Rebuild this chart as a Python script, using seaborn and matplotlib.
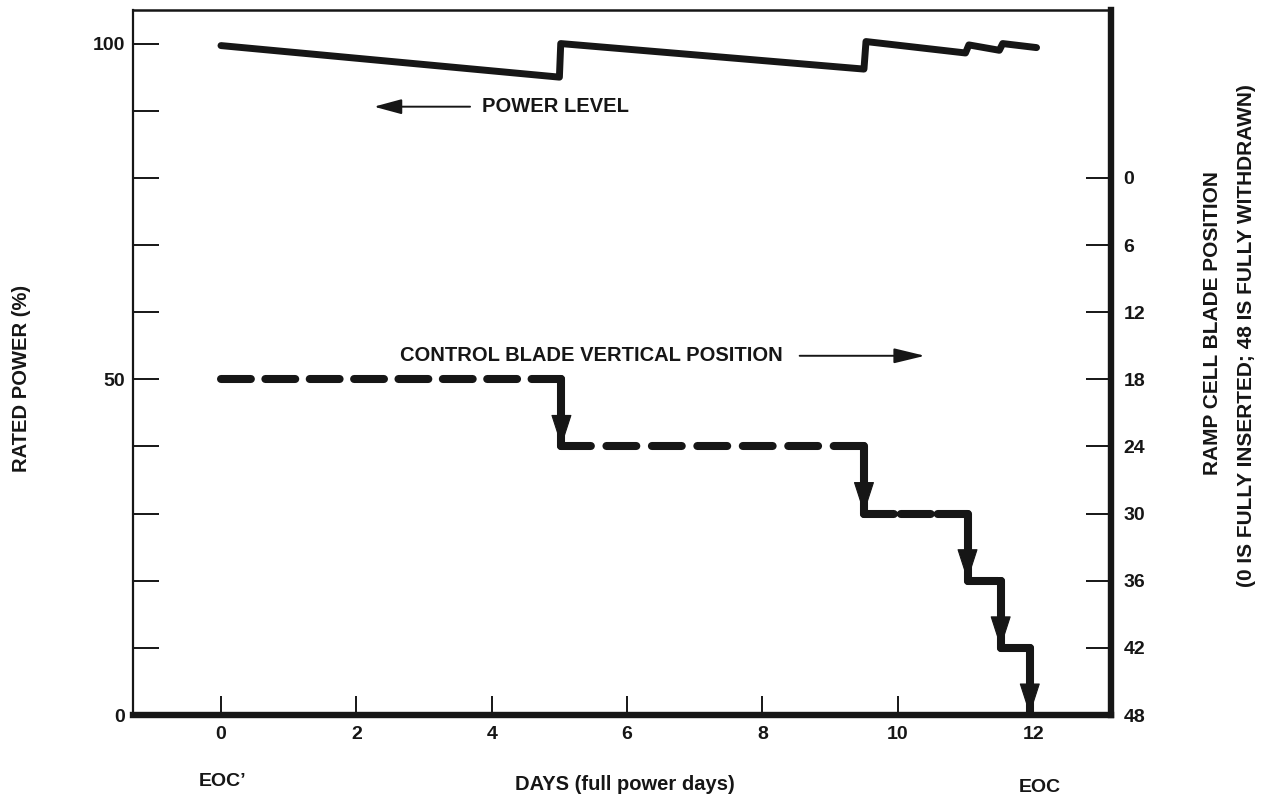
import numpy as np
import pandas as pd
import matplotlib
matplotlib.use("Agg")
import matplotlib.pyplot as plt
import seaborn as sns

# Reactor power history: full power days vs. percent of rated power
power_days = [0.0, 5.0, 5.02, 9.5, 9.53, 11.0, 11.05, 11.5, 11.55, 12.05]
power_pct = [99.7, 95.0, 100.0, 96.2, 100.3, 98.6, 99.8, 99.0, 100.0, 99.4]

# Ramp cell control blade withdrawal steps: day of each move and blade position
blade_days = [0.0, 5.03, 9.5, 11.03, 11.52, 11.95]
blade_pos = [18, 24, 30, 36, 42, 48]

day_ticks = [0, 2, 4, 6, 8, 10, 12]
day_labels = ["0", "2", "4", "6", "8", "10", "12"]
power_ticks = [0, 10, 20, 30, 40, 50, 60, 70, 80, 90, 100]
power_labels = ["0", "", "", "", "", "50", "", "", "", "", "100"]
blade_ticks = [0, 6, 12, 18, 24, 30, 36, 42, 48]
blade_labels = ["0", "6", "12", "18", "24", "30", "36", "42", "48"]

sns.set_theme(style="ticks")
plt.rcParams["font.family"] = ["Liberation Sans", "DejaVu Sans"]
plt.rcParams["font.weight"] = "bold"
plt.rcParams["lines.scale_dashes"] = False

INK = "#161616"
W, H = 1265, 800

fig = plt.figure(figsize=(W / 100, H / 100), dpi=100)
fig.patch.set_facecolor("white")
ax = fig.add_axes([133 / W, 1 - 715 / H, (1111 - 133) / W, (715 - 10) / H])
ax.set_facecolor("white")
ax2 = ax.twinx()

ax.set_xlim(-1.3, 13.15)
ax.set_ylim(0, 105)
# blade scale: 48 at 0 % rated power, 18 at 50 %, 0 at 80 %
ax2.set_ylim(48, -15)

# ---- power level (left scale) ----
df_power = pd.DataFrame({"day": power_days, "power": power_pct})
sns.lineplot(data=df_power, x="day", y="power", ax=ax, color=INK, lw=5.0,
             estimator=None, sort=False, legend=False,
             solid_capstyle="round", solid_joinstyle="round")

# ---- control blade position (right scale) ----
h_rows, v_rows = [], []
for i in range(len(blade_pos) - 1):
    h_rows += [{"seg": i, "day": blade_days[i], "pos": blade_pos[i]},
               {"seg": i, "day": blade_days[i + 1], "pos": blade_pos[i]}]
    v_rows += [{"seg": i, "day": blade_days[i + 1], "pos": blade_pos[i]},
               {"seg": i, "day": blade_days[i + 1], "pos": blade_pos[i + 1]}]
df_h = pd.DataFrame(h_rows)
df_v = pd.DataFrame(v_rows)

BLADE_LW = 5.8
n0 = len(ax2.lines)
sns.lineplot(data=df_h, x="day", y="pos", units="seg", ax=ax2, color=INK,
             lw=BLADE_LW, estimator=None, sort=False, legend=False)
h_lines = ax2.lines[n0:]
n1 = len(ax2.lines)
sns.lineplot(data=df_v, x="day", y="pos", units="seg", ax=ax2, color=INK,
             lw=BLADE_LW, estimator=None, sort=False, legend=False,
             solid_capstyle="round")
for ln in ax2.lines[n1:]:
    ln.set_solid_capstyle("round")

# dash each horizontal run so it starts and ends on a dash
ON, OFF = 21.5, 9.6
for ln in h_lines:
    xd, yd = ln.get_xdata(), ln.get_ydata()
    p = ax2.transData.transform(np.column_stack([xd, yd]))
    length_pt = np.hypot(*(p[-1] - p[0])) * 72 / fig.dpi
    n = max(2, int(round((length_pt + OFF) / (ON + OFF))))
    off = max(2.0, (length_pt - n * ON) / (n - 1))
    ln.set_dashes((ON, off))
    ln.set_dash_capstyle("round")

# arrowheads at the bottom of each blade move
for i in range(len(blade_pos) - 1):
    ax2.annotate("", xy=(blade_days[i + 1], blade_pos[i + 1]),
                 xytext=(blade_days[i + 1], blade_pos[i]),
                 arrowprops=dict(arrowstyle="-|>,head_length=21,head_width=6.8",
                                 mutation_scale=1, color=INK, lw=0.8,
                                 shrinkA=0, shrinkB=0))

# ---- series captions with pointer arrows ----
ax.text(3.86, 90.6, "POWER LEVEL", fontsize=14.5, fontweight="bold",
        ha="left", va="center", color=INK)
ax.annotate("", xy=(2.26, 90.6), xytext=(3.68, 90.6),
            arrowprops=dict(arrowstyle="-|>,head_length=17,head_width=4.6",
                            mutation_scale=1, color=INK, lw=1.4,
                            shrinkA=0, shrinkB=0))
ax.text(2.64, 53.5, "CONTROL BLADE VERTICAL POSITION", fontsize=14.5,
        fontweight="bold", ha="left", va="center", color=INK)
ax.annotate("", xy=(10.4, 53.5), xytext=(8.55, 53.5),
            arrowprops=dict(arrowstyle="-|>,head_length=19,head_width=4.6",
                            mutation_scale=1, color=INK, lw=1.4,
                            shrinkA=0, shrinkB=0))

# ---- axes, ticks, spines ----
ax.set_xticks(day_ticks)
ax.set_xticklabels(day_labels)
ax.set_yticks(power_ticks)
ax.set_yticklabels(power_labels)
ax.tick_params(axis="x", direction="in", length=14, width=1.4, pad=8,
               labelsize=14, colors=INK, bottom=True, top=False)
ax.tick_params(axis="y", direction="in", length=19, width=1.4, pad=6,
               labelsize=14, colors=INK, left=True, right=False)
ax2.set_yticks(blade_ticks)
ax2.set_yticklabels(blade_labels)
ax2.tick_params(axis="y", direction="in", length=18, width=1.4, pad=9,
                labelsize=14, colors=INK, left=False, right=True)
for lab in ax.get_xticklabels() + ax.get_yticklabels() + ax2.get_yticklabels():
    lab.set_fontweight("bold")

ax.set_xlabel("")
ax.set_ylabel("")
ax2.set_ylabel("")

for name, lw in [("left", 1.6), ("top", 1.8), ("bottom", 4.6)]:
    ax.spines[name].set_visible(True)
    ax.spines[name].set_linewidth(lw)
    ax.spines[name].set_color(INK)
ax.spines["right"].set_visible(False)
for name in ["left", "top", "bottom"]:
    ax2.spines[name].set_visible(False)
ax2.spines["right"].set_visible(True)
ax2.spines["right"].set_linewidth(4.6)
ax2.spines["right"].set_color(INK)
ax.spines["bottom"].set_capstyle("projecting")
ax2.spines["right"].set_capstyle("projecting")

# ---- axis titles ----
fig.text(22 / W, 1 - 378 / H, "RATED POWER (%)", rotation=90, fontsize=14.5,
         fontweight="bold", ha="center", va="center", color=INK)
fig.text(1213 / W, 1 - 323 / H, "RAMP CELL BLADE POSITION", rotation=90,
         fontsize=15, fontweight="bold", ha="center", va="center", color=INK)
fig.text(1247 / W, 1 - 336 / H, "(0 IS FULLY INSERTED; 48 IS FULLY WITHDRAWN)",
         rotation=90, fontsize=15, fontweight="bold", ha="center", va="center",
         color=INK)
fig.text(625 / W, 1 - 785 / H, "DAYS (full power days)", fontsize=14.5,
         fontweight="bold", ha="center", va="center", color=INK)
fig.text(223 / W, 1 - 781 / H, "EOC\u2019", fontsize=14, fontweight="bold",
         ha="center", va="center", color=INK)
fig.text(1040 / W, 1 - 788 / H, "EOC", fontsize=14, fontweight="bold",
         ha="center", va="center", color=INK)

fig.savefig("out.png", dpi=100, facecolor="white")
